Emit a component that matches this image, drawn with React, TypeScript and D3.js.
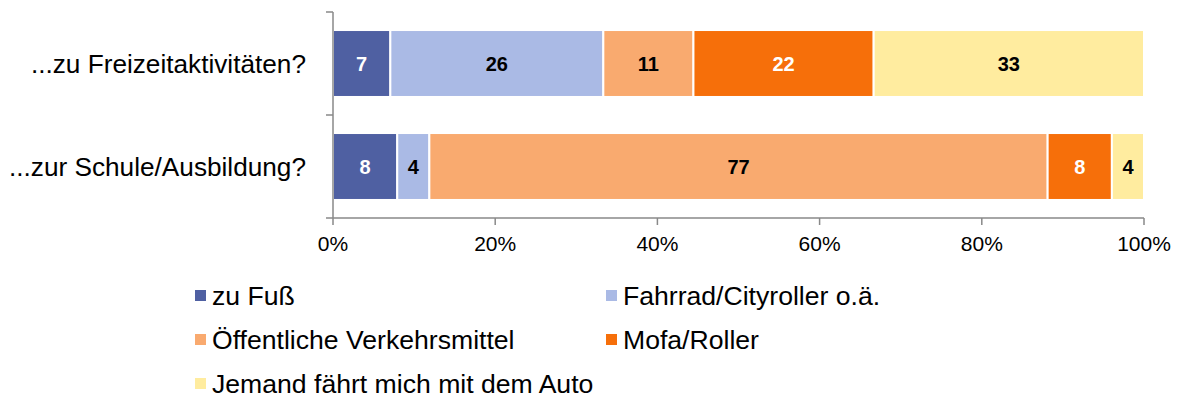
import React from "react";
import * as d3 from "d3";

const categories = ["...zu Freizeitaktivitäten?", "...zur Schule/Ausbildung?"];
const seriesNames = [
  "zu Fuß",
  "Fahrrad/Cityroller o.ä.",
  "Öffentliche Verkehrsmittel",
  "Mofa/Roller",
  "Jemand fährt mich mit dem Auto",
];
const zuFuss = [7, 8];
const fahrrad = [26, 4];
const oeffentlich = [11, 77];
const mofa = [22, 8];
const auto = [33, 4];
const xTicks = [0, 0.2, 0.4, 0.6, 0.8, 1];

const colors = ["#4F60A2", "#AABAE5", "#F9AA6F", "#F66F0A", "#FFEC9F"];
const labelColors = ["#fff", "#000", "#000", "#fff", "#000"];

const width = 1178;
const height = 400;
const margin = { top: 12, left: 333, right: 34 };
const plotBottom = 218;
const font = "'Liberation Sans', Arial, sans-serif";

const rows = categories.map((c, i) => ({
  cat: c,
  s0: zuFuss[i],
  s1: fahrrad[i],
  s2: oeffentlich[i],
  s3: mofa[i],
  s4: auto[i],
}));

const App = () => {
  const keys = ["s0", "s1", "s2", "s3", "s4"];
  const stacked = d3.stack().keys(keys).offset(d3.stackOffsetExpand)(rows as any);

  const x = d3.scaleLinear().domain([0, 1]).range([margin.left, width - margin.right]);
  const y = d3
    .scaleBand()
    .domain(categories)
    .range([margin.top, plotBottom])
    .paddingInner(0.35)
    .paddingOuter(0.175);

  const step = y.step();
  const yTickPos = [margin.top, margin.top + step, margin.top + 2 * step];
  const axisColor = "#898989";

  const legendCols = [195, 606];
  const legendRows = [305, 349, 393];

  return (
    <svg
      width={width}
      height={height}
      viewBox={`0 0 ${width} ${height}`}
      style={{ position: "absolute", left: 0, top: 0, background: "#fff" }}
    >
      {stacked.map((layer, li) => (
        <g key={li}>
          {layer.map((d, di) => {
            const x0 = x(d[0]);
            const x1 = x(d[1]);
            const yy = y(categories[di]) as number;
            const val = (rows[di] as any)[keys[li]];
            return (
              <g key={di}>
                <rect
                  x={x0}
                  y={yy}
                  width={x1 - x0}
                  height={y.bandwidth()}
                  fill={colors[li]}
                  stroke="#fff"
                  strokeWidth={2}
                />
                <text
                  x={(x0 + x1) / 2}
                  y={yy + y.bandwidth() / 2}
                  dy="0.36em"
                  textAnchor="middle"
                  fontFamily={font}
                  fontWeight="bold"
                  fontSize={20}
                  fill={labelColors[li]}
                >
                  {val}
                </text>
              </g>
            );
          })}
        </g>
      ))}

      {/* y axis */}
      <line x1={margin.left} x2={margin.left} y1={margin.top} y2={plotBottom} stroke={axisColor} strokeWidth={1.5} />
      {yTickPos.map((t, i) => (
        <line key={i} x1={margin.left - 7} x2={margin.left} y1={t} y2={t} stroke={axisColor} strokeWidth={1.5} />
      ))}
      {categories.map((c) => (
        <text
          key={c}
          x={306}
          y={(y(c) as number) + y.bandwidth() / 2}
          dy="0.36em"
          textAnchor="end"
          fontFamily={font}
          fontSize={26.2}
          fill="#000"
        >
          {c}
        </text>
      ))}

      {/* x axis */}
      <line x1={margin.left} x2={width - margin.right} y1={plotBottom} y2={plotBottom} stroke={axisColor} strokeWidth={1.5} />
      {xTicks.map((t) => (
        <g key={t}>
          <line x1={x(t)} x2={x(t)} y1={plotBottom} y2={plotBottom + 7} stroke={axisColor} strokeWidth={1.5} />
          <text x={x(t)} y={251} textAnchor="middle" fontFamily={font} fontSize={21} fill="#000">
            {d3.format(".0%")(t)}
          </text>
        </g>
      ))}

      {/* legend */}
      {seriesNames.map((name, i) => {
        const lx = legendCols[i % 2];
        const ly = legendRows[Math.floor(i / 2)];
        return (
          <g key={name}>
            <rect x={lx} y={ly - 15} width={11} height={11} fill={colors[i]} />
            <text x={lx + 17} y={ly} fontFamily={font} fontSize={26.6} fill="#000">
              {name}
            </text>
          </g>
        );
      })}
    </svg>
  );
};

export default App;
